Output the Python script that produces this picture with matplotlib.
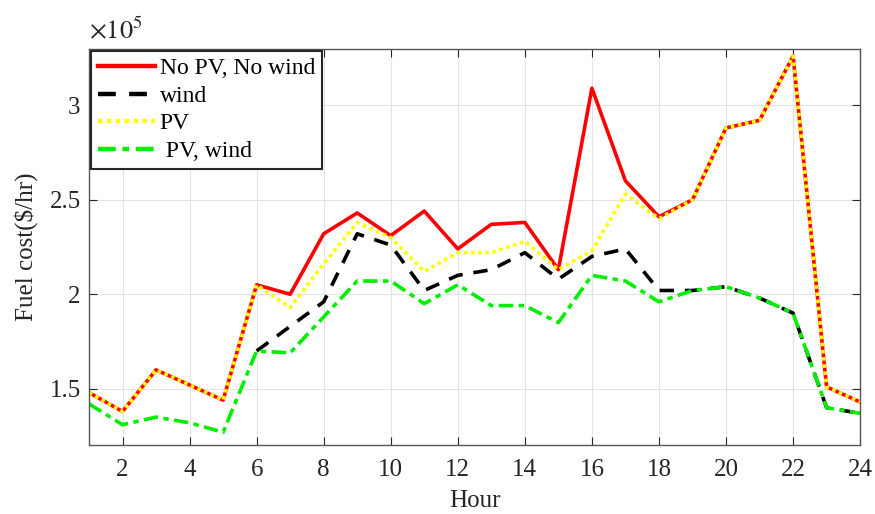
import numpy as np
import matplotlib
matplotlib.use("Agg")
import matplotlib.pyplot as plt

hours = list(range(1, 25))
# Fuel cost in units of 1e5 $/hr
no_pv_no_wind = [1.48, 1.38, 1.60, 1.52, 1.44, 2.05, 2.00, 2.32, 2.43, 2.31, 2.44, 2.24,
                 2.37, 2.38, 2.13, 3.09, 2.60, 2.41, 2.50, 2.88, 2.92, 3.26, 1.51, 1.43]
wind = [np.nan, np.nan, np.nan, np.nan, np.nan, 1.70, 1.83, 1.96, 2.32, 2.26, 2.02, 2.10,
        2.13, 2.22, 2.08, 2.20, 2.24, 2.02, 2.02, 2.04, 1.98, 1.90, 1.40, 1.37]
pv = [1.48, 1.38, 1.60, 1.52, 1.44, 2.05, 1.93, 2.16, 2.38, 2.30, 2.12, 2.22,
      2.22, 2.28, 2.13, 2.23, 2.53, 2.40, 2.50, 2.88, 2.92, 3.26, 1.51, 1.43]
pv_wind = [1.42, 1.31, 1.35, 1.32, 1.27, 1.70, 1.69, 1.88, 2.07, 2.07, 1.95, 2.05,
           1.94, 1.94, 1.85, 2.10, 2.07, 1.96, 2.02, 2.04, 1.98, 1.90, 1.40, 1.37]

plt.rcParams['font.family'] = ['Liberation Serif', 'DejaVu Serif']
plt.rcParams['mathtext.fontset'] = 'stix'

fig = plt.figure(figsize=(8.75, 5.14), dpi=100)
ax = fig.add_axes([0.1017, 0.1333, 0.8813, 0.7723])

lw = 2.6
ax.plot(hours, no_pv_no_wind, color='#ff0000', lw=lw, ls='-', label='No PV, No wind')
ax.plot(hours, wind, color='black', lw=lw, ls=(0, (4, 3)), label='wind')
ax.plot(hours, pv, color='#ffff00', lw=lw, ls=(0, (1, 1)), label='PV')
ax.plot(hours, pv_wind, color='#00ee00', lw=lw, ls=(0, (4, 1.5, 1.5, 1.5)), label=' PV, wind')

ax.set_xlim(1, 24)
ax.set_ylim(1.2, 3.3)
ax.set_xticks(range(2, 25, 2))
ax.set_yticks([1.5, 2, 2.5, 3])
ax.set_yticklabels(['1.5', '2', '2.5', '3'])
ax.grid(True, color='#e3e3e3', lw=0.8)
ax.set_axisbelow(True)
ax.tick_params(direction='in', top=True, right=True, labelsize=18, colors='#262626',
               length=6, width=0.8)
ax.tick_params(axis='x', pad=10)
ax.tick_params(axis='y', pad=6)
for s in ax.spines.values():
    s.set_color('#555555')
    s.set_linewidth(1.0)

ax.set_xlabel('Hour', fontsize=18, color='#262626', labelpad=6)
ax.set_ylabel('Fuel cost($/hr)', fontsize=18, color='#262626', labelpad=8)
ax.text(0.0, 1.012, r'$\times10^5$', transform=ax.transAxes, fontsize=19,
        color='#262626', ha='left', va='bottom')

leg = ax.legend(loc='upper left', fontsize=17, frameon=True, fancybox=False,
                borderaxespad=0.1, handlelength=2.4, handletextpad=0.2,
                borderpad=0.3, labelspacing=0.25)
leg.get_frame().set_edgecolor('#262626')
leg.get_frame().set_linewidth(1.5)
leg.get_frame().set_alpha(1)
for h in leg.get_lines():
    h.set_linewidth(3.2)

fig.savefig('out.png', dpi=100)
